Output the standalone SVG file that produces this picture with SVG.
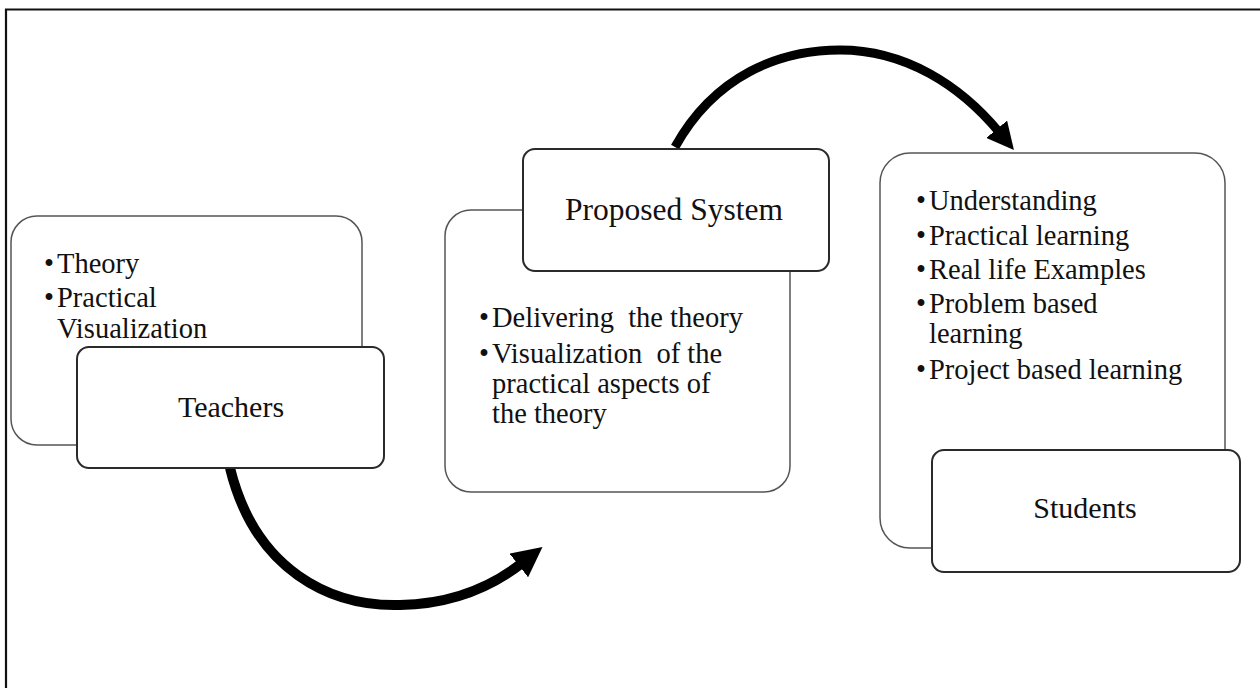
<svg xmlns="http://www.w3.org/2000/svg" width="1260" height="688" viewBox="0 0 1260 688">
<style>
.back{fill:#fff;stroke:#555;stroke-width:1.5}
.front{fill:#fff;stroke:#2a2a2a;stroke-width:2}
.t{font-family:"Liberation Serif","Times New Roman",serif;fill:#111;white-space:pre}
.title{font-size:30px;text-anchor:middle}
.b{font-size:28.5px}
.arrow{fill:none;stroke:#000;stroke-width:10;marker-end:url(#ah)}
</style>
<defs>
<marker id="ah" viewBox="0 0 3 3" refX="0.4" refY="1.5" markerWidth="3" markerHeight="3" markerUnits="strokeWidth" orient="auto">
<path d="M0,0 L3,1.5 L0,3 z" fill="#000"/>
</marker>
</defs>
<rect width="1260" height="688" fill="#fff"/>
<path d="M6,700 V9.5 H1270" fill="none" stroke="#111" stroke-width="2.2"/>

<g id="connectors">
<path class="arrow" d="M230,468 C255,570 330,607 400,605 C450,604 490,588 522,563"/>
<path class="arrow" style="stroke-width:9" d="M675,147 C715,75 780,50 840,50 C905,50 960,85 999,132"/>
</g>

<g id="teachers">
<rect class="back" x="11" y="216" width="351" height="229" rx="26"/>
<text class="t b" x="44" y="273">•</text><text class="t b" x="57" y="273">Theory</text>
<text class="t b" x="44" y="307">•</text><text class="t b" x="57" y="307">Practical</text>
<text class="t b" x="57" y="338">Visualization</text>
<rect class="front" x="77" y="347" width="307" height="121" rx="12"/>
<text class="t title" x="231" y="417">Teachers</text>
</g>

<g id="proposed">
<rect class="back" x="445" y="210" width="345" height="282" rx="26"/>
<text class="t b" x="479" y="327">•</text><text class="t b" x="492" y="327" xml:space="preserve">Delivering  the theory</text>
<text class="t b" x="479" y="363">•</text><text class="t b" x="492" y="363" xml:space="preserve">Visualization  of the</text>
<text class="t b" x="492" y="393">practical aspects of</text>
<text class="t b" x="492" y="423">the theory</text>
<rect class="front" x="523" y="149" width="306" height="122" rx="12"/>
<text class="t title" x="674" y="220" style="font-size:31.5px">Proposed System</text>
</g>

<g id="students">
<rect class="back" x="880" y="153" width="345" height="395" rx="30"/>
<text class="t b" x="916" y="210">•</text><text class="t b" x="929" y="210">Understanding</text>
<text class="t b" x="916" y="245">•</text><text class="t b" x="929" y="245">Practical learning</text>
<text class="t b" x="916" y="279">•</text><text class="t b" x="929" y="279">Real life Examples</text>
<text class="t b" x="916" y="313">•</text><text class="t b" x="929" y="313">Problem based</text>
<text class="t b" x="929" y="343">learning</text>
<text class="t b" x="916" y="379">•</text><text class="t b" x="929" y="379">Project based learning</text>
<rect class="front" x="932" y="450" width="308" height="122" rx="12"/>
<text class="t title" x="1085" y="518">Students</text>
</g>
</svg>
